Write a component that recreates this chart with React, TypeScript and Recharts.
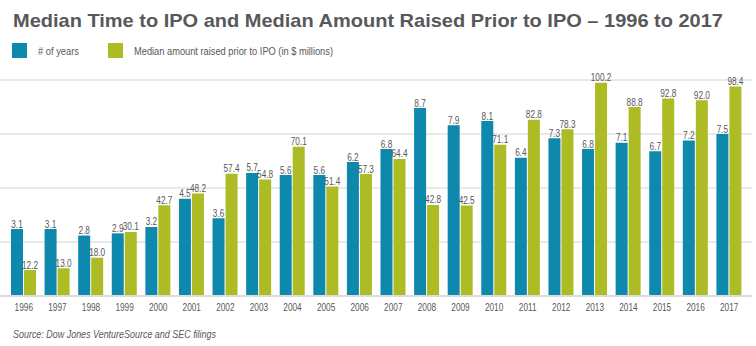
import React from "react";
import { BarChart, Bar, XAxis, YAxis, CartesianGrid, LabelList } from "recharts";

const years = ["1996","1997","1998","1999","2000","2001","2002","2003","2004","2005","2006","2007","2008","2009","2010","2011","2012","2013","2014","2015","2016","2017"];
const numYears = [3.1,3.1,2.8,2.9,3.2,4.5,3.6,5.7,5.6,5.6,6.2,6.8,8.7,7.9,8.1,6.4,7.3,6.8,7.1,6.7,7.2,7.5];
const amountRaised = [12.2,13.0,18.0,30.1,42.7,48.2,57.4,54.8,70.1,51.4,57.3,64.4,42.8,42.5,71.1,82.8,78.3,100.2,88.8,92.8,92.0,98.4];
const yearTicks = [0, 2.5, 5, 7.5, 10];

const data = years.map((y, i) => ({ year: y, years: numYears[i], amount: amountRaised[i] }));

const FONT = "'Liberation Sans', Arial, sans-serif";
const BLUE = "#0f88ae";
const GREEN = "#adbb24";
const TEXT = "#58585a";
const SX = 0.75;

const BarLabel = (props: any) => {
  const { x, y, width, value } = props;
  const cx = Number(x) + Number(width) / 2;
  return (
    <text
      x={0}
      y={0}
      transform={`translate(${cx} ${Number(y) - 1.5}) scale(${SX} 1)`}
      textAnchor="middle"
      fill={TEXT}
      fontSize={11}
      fontFamily={FONT}
    >
      {Number(value).toFixed(1)}
    </text>
  );
};

const XTick = (props: any) => {
  const { x, y, payload } = props;
  return (
    <text
      x={0}
      y={0}
      transform={`translate(${x} ${Number(y) + 7}) scale(${SX} 1)`}
      textAnchor="middle"
      fill={TEXT}
      fontSize={11}
      fontFamily={FONT}
    >
      {payload.value}
    </text>
  );
};

export default function App() {
  return (
    <div style={{ position: "absolute", left: 0, top: 0, width: 756, height: 346, background: "#fff" }}>
      <div style={{ position: "absolute", left: 0, top: 0 }}>
        <BarChart width={756} height={346} data={data} margin={{ top: 80, right: 4, bottom: 20, left: 0 }} barSize={12} barGap={1}>
          <CartesianGrid vertical={false} stroke="#e2e2e2" strokeWidth={1.5} />
          <XAxis
            dataKey="year"
            padding={{ left: 7, right: 6 }}
            tickLine={false}
            axisLine={{ stroke: "#dcdcdc", strokeWidth: 2 }}
            tick={<XTick />}
            interval={0}
          />
          <YAxis hide domain={[0, 10]} ticks={yearTicks} />
          <YAxis hide yAxisId="right" orientation="right" domain={[0, 101.5]} />
          <Bar dataKey="years" fill={BLUE} isAnimationActive={false}>
            <LabelList dataKey="years" content={<BarLabel />} />
          </Bar>
          <Bar dataKey="amount" yAxisId="right" fill={GREEN} isAnimationActive={false}>
            <LabelList dataKey="amount" content={<BarLabel />} />
          </Bar>
        </BarChart>
      </div>
      <svg width={756} height={346} style={{ position: "absolute", left: 0, top: 0, pointerEvents: "none" }}>
        <text x={13} y={27} fontSize={19} fontWeight="bold" fill={TEXT} fontFamily={FONT} textLength={710} lengthAdjust="spacingAndGlyphs">
          Median Time to IPO and Median Amount Raised Prior to IPO – 1996 to 2017
        </text>
        <rect x={12} y={43} width={15} height={15} fill={BLUE} />
        <text x={38} y={55} fontSize={11} fill={TEXT} fontFamily={FONT} textLength={41} lengthAdjust="spacingAndGlyphs"># of years</text>
        <rect x={108} y={43} width={15} height={15} fill={GREEN} />
        <text x={134} y={55} fontSize={11} fill={TEXT} fontFamily={FONT} textLength={199} lengthAdjust="spacingAndGlyphs">Median amount raised prior to IPO (in $ millions)</text>
        <text x={13} y={338} fontSize={11} fontStyle="italic" fill={TEXT} fontFamily={FONT} textLength={203} lengthAdjust="spacingAndGlyphs">Source: Dow Jones VentureSource and SEC filings</text>
      </svg>
    </div>
  );
}
